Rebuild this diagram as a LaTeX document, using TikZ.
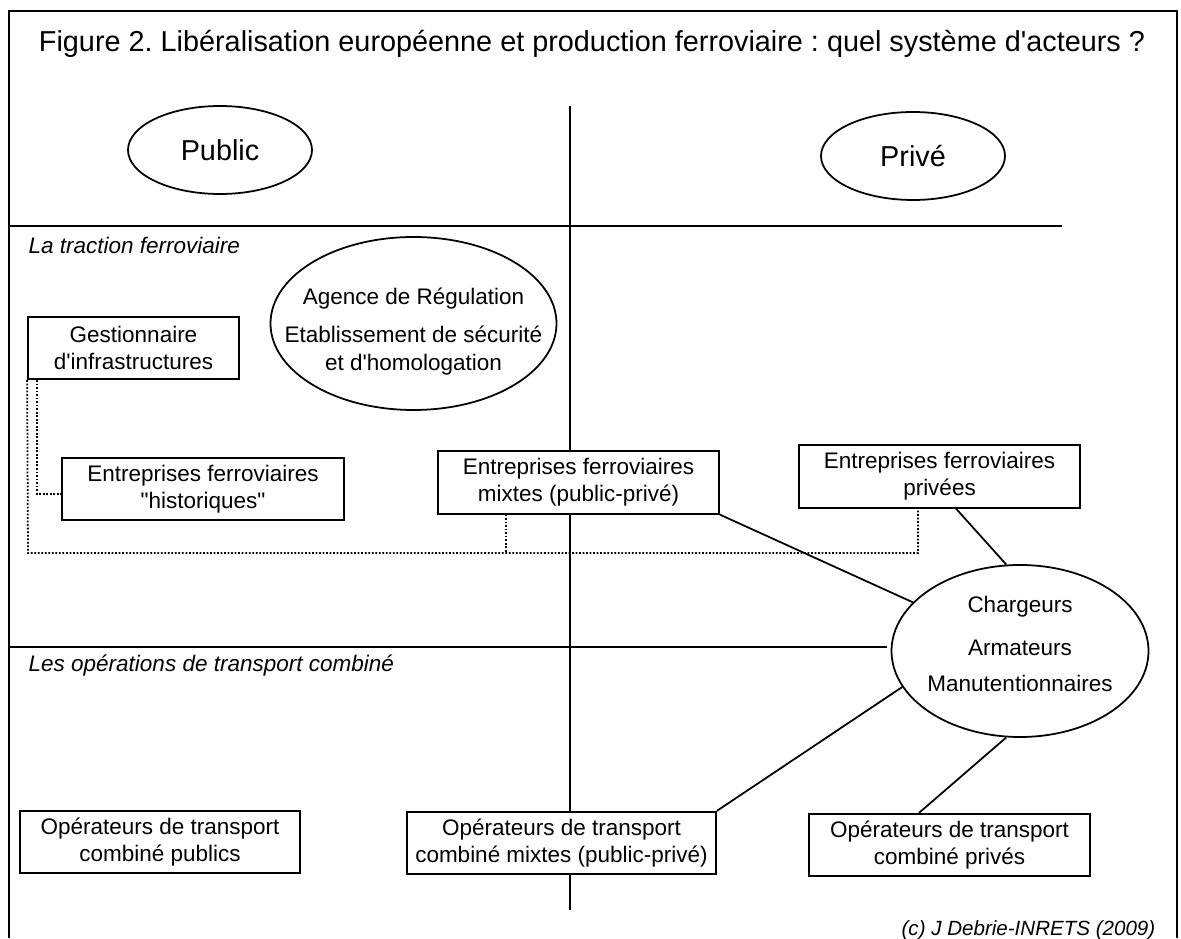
\documentclass[tikz,border=0pt]{standalone}
\usepackage{fontspec}
\setmainfont{Liberation Sans}
\usetikzlibrary{shapes.geometric}
\frenchspacing

\begin{document}
\begin{tikzpicture}[line width=1pt,
  boite/.style={draw,fill=white,align=center,minimum width=5.62cm,minimum height=1.25cm,inner sep=1pt,font=\fontsize{12.8}{15.4}\selectfont},
  bulle/.style={ellipse,draw,fill=white,inner sep=0pt},
  grand/.style={font=\fontsize{16.4}{19}\selectfont},
  petit/.style={font=\fontsize{12.8}{15.4}\selectfont},
  pointille/.style={densely dotted}]
\useasboundingbox (0,0) rectangle (23.62,18.76);
\draw (0.18,0) -- (0.18,18.54) -- (23.54,18.54) -- (23.54,0);
\draw (0.18,14.24) -- (21.24,14.24);
\draw (11.4,16.64) -- (11.4,0.56);

\node[grand,anchor=base] (t) at (11.84,17.72) {Figure 2. Libéralisation européenne et production ferroviaire : quel système d\textquotesingle acteurs ?};
\node[bulle,grand,minimum width=3.68cm,minimum height=1.76cm] (e1) at (4.4,15.76) {Public};
\node[bulle,grand,minimum width=3.68cm,minimum height=1.76cm] (e2) at (18.26,15.64) {Privé};

\node[font=\fontsize{12.8}{15.4}\selectfont\itshape,anchor=west] (s1) at (0.44,13.86) {La traction ferroviaire};
\node[font=\fontsize{12.8}{15.4}\selectfont\itshape,anchor=west] (s2) at (0.44,5.44) {Les opérations de transport combiné};

\node[bulle,minimum width=5.72cm,minimum height=3.46cm,label={[petit,align=center,yshift=-0.16cm]center:{Agence de Régulation\\[0.22cm]Etablissement de sécurité\\et d\textquotesingle homologation}}] (e3) at (8.27,12.29) {};
\node[boite,minimum width=4.22cm] (b1) at (2.67,11.8) {Gestionnaire\\d\textquotesingle infrastructures};
\node[boite,minimum width=5.64cm] (b2) at (4.06,8.98) {Entreprises ferroviaires\\\textquotedbl historiques\textquotedbl};
\node[boite] (b3) at (11.57,9.11) {Entreprises ferroviaires\\mixtes (public-privé)};
\node[boite] (b4) at (18.79,9.23) {Entreprises ferroviaires\\privées};

\node[bulle,minimum width=5.14cm,minimum height=3.44cm,label={[petit,align=center,yshift=0.14cm]center:{Chargeurs\\[0.3cm]Armateurs\\[0.18cm]Manutentionnaires}}] (e4) at (20.4,5.74) {};

\node[boite,minimum width=5.6cm] (b5) at (3.2,1.92) {Opérateurs de transport\\combiné publics};
\node[boite,minimum width=6.18cm] (b6) at (11.23,1.9) {Opérateurs de transport\\combiné mixtes (public-privé)};
\node[boite] (b7) at (18.99,1.86) {Opérateurs de transport\\combiné privés};

\node[font=\fontsize{11.7}{14}\selectfont\itshape,anchor=base east] (c) at (23.24,0.06) {(c) J Debrie-INRETS (2009)};

\coordinate (d1) at (0.56,7.7);
\coordinate (d2) at (17.74,5.82);
\draw (0.18,5.82) -- (d2);
\draw[pointille] ([xshift=0.2cm]b1.south west) |- ([yshift=-0.1cm]b2.west);
\draw[pointille] (b1.south west) -- (d1) -| ([xshift=-0.43cm]b4.south);
\draw[pointille] ([xshift=-1.45cm]b3.south) -- ([xshift=-1.45cm]b3.south |- d1);
\draw (b3.south east) -- (e4);
\draw ([xshift=0.33cm]b4.south) -- (e4.99);
\draw (b6.north east) -- (e4.197);
\draw ([xshift=-0.61cm]b7.north) -- (e4.261);
\end{tikzpicture}
\end{document}
